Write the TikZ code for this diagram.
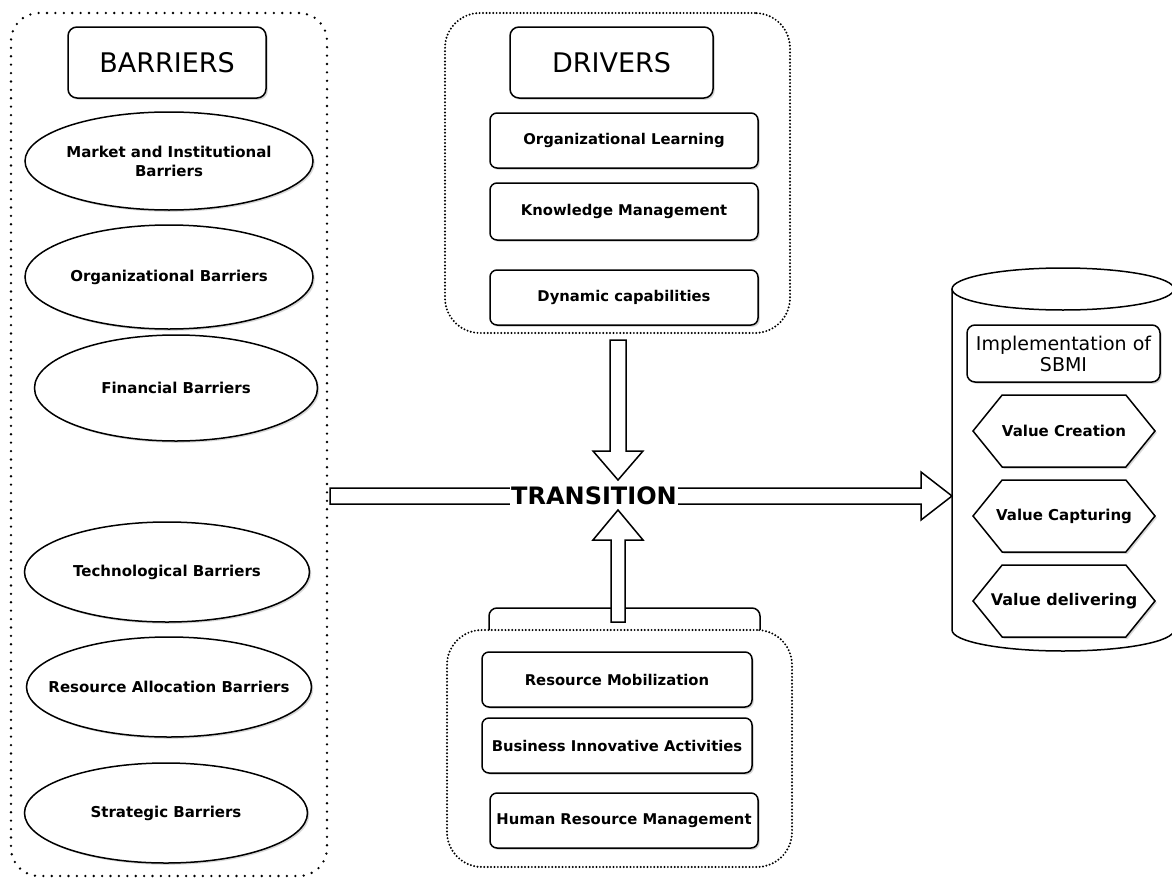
\documentclass[tikz,border=0pt]{standalone}
\usepackage{fontspec}
\setmainfont{DejaVu Sans}
\usetikzlibrary{shapes.geometric,shapes.symbols,shadows,calc}
\tikzset{
 lw/.style={line width=1.5pt},
 sh/.style={drop shadow={opacity=0.3,shadow xshift=1.8pt,shadow yshift=-1.8pt}},
 sparsedots/.style={draw, line width=2.6pt, line cap=round, dash pattern=on 0pt off 8.4pt, rounded corners=28pt, fill=white, inner sep=0pt},
 densedots/.style={draw, line width=2.2pt, line cap=round, dash pattern=on 0pt off 3.4pt, rounded corners=35pt, fill=white, inner sep=0pt},
 titlebox/.style={draw, lw, rounded corners=9pt, fill=white, sh, inner sep=0pt, font=\fontsize{27}{30}\selectfont},
 itembox/.style={draw, lw, rounded corners=7pt, fill=white, sh, inner sep=0pt, minimum width=268pt, minimum height=55pt, font=\bfseries\fontsize{14.8}{17}\selectfont},
 barell/.style={draw, ellipse, lw, fill=white, sh, inner xsep=-60pt, inner ysep=0pt, align=center, font=\bfseries\fontsize{15}{19}\selectfont},
 valhex/.style={draw, signal, signal to=west and east, signal pointer angle=102, lw, fill=white, sh, inner xsep=-25pt, inner ysep=0pt, minimum width=182pt, minimum height=72pt, font=\bfseries\fontsize{15}{17}\selectfont},
 fatarrow/.style={draw, lw, fill=white, line join=miter},
}
\newcommand\fatarr[5]{%
 \coordinate (fa-h) at ($(#2)!#5!(#1)$);
 \draw[fatarrow] ($(#1)!#3!90:(#2)$) -- ($(fa-h)!#3!90:(#2)$) -- ($(fa-h)!#4!90:(#2)$) -- (#2)
   -- ($(fa-h)!#4!-90:(#2)$) -- ($(fa-h)!#3!-90:(#2)$) -- ($(#1)!#3!-90:(#2)$) -- cycle;}
\begin{document}
\begin{tikzpicture}[x=1pt,y=-1pt]
\useasboundingbox (0,0) rectangle (1172,878);
% ---------- BARRIERS ----------
\node[sparsedots, minimum width=316pt, minimum height=863pt] (barbox) at (169,444.5) {};
\node[titlebox, minimum width=198pt, minimum height=71pt] (bartitle) at (167,62.5) {BARRIERS};
\node[barell, minimum width=288pt, minimum height=98pt] (e1) at (169,161) {Market and Institutional\\Barriers};
\node[barell, minimum width=288pt, minimum height=104pt] (e2) at (169,277) {Organizational Barriers};
\node[barell, minimum width=283pt, minimum height=106pt] (e3) at (176,388) {Financial Barriers};
\node[barell, minimum width=285pt, minimum height=100pt] (e4) at (167,572) {Technological Barriers};
\node[barell, minimum width=285pt, minimum height=100pt] (e5) at (169,687) {Resource Allocation Barriers};
\node[barell, minimum width=283pt, minimum height=100pt] (e6) at (166,813) {Strategic Barriers};
% ---------- DRIVERS ----------
\node[densedots, minimum width=345pt, minimum height=320pt] (drbox) at (617.5,173) {};
\node[titlebox, minimum width=203pt, minimum height=71pt] (drtitle) at (611.5,62.5) {DRIVERS};
\node[itembox] (d1) at (624,140.5) {Organizational Learning};
\node[itembox, minimum height=57pt] (d2) at (624,211.5) {Knowledge Management};
\node[itembox] (d3) at (624,297.5) {Dynamic capabilities};
% ---------- bottom group ----------
\node[draw, lw, rounded corners=8pt, fill=white, minimum width=271pt, minimum height=60pt, inner sep=0pt] (entitle) at (624.5,638) {};
\coordinate (ustart) at (618,622);
\coordinate (tup) at (618,510);
\fatarr{ustart}{tup}{7pt}{25pt}{30pt}
\node[densedots, minimum width=345pt, minimum height=237pt] (enbox) at (619.5,748.5) {};
\node[itembox, minimum width=270pt] (b1) at (617,679.5) {Resource Mobilization};
\node[itembox, minimum width=270pt] (b2) at (617,745.5) {Business Innovative Activities};
\node[itembox] (b3) at (624,820.5) {Human Resource Management};
% ---------- cylinder ----------
\draw[lw, fill=white] (952,289) -- (952,630) arc[start angle=180, end angle=360, x radius=111pt, y radius=21pt] -- (1174,289);
\draw[lw, fill=white] (1063,289) ellipse [x radius=111pt, y radius=21pt];
\coordinate (cylW) at (952,496);
\node[draw, lw, rounded corners=8pt, fill=white, sh, inner sep=0pt, minimum width=193pt, minimum height=57pt, align=center, font=\fontsize{19}{21}\selectfont] (impl) at (1063.5,353.5) {Implementation of\\SBMI};
\node[valhex] (v1) at (1064,431) {Value Creation};
\node[valhex] (v2) at (1064,516) {Value Capturing};
\node[valhex, font=\bfseries\fontsize{16}{18}\selectfont] (v3) at (1064,601) {Value delivering};
% ---------- arrows ----------
\coordinate (dstartx) at (618,340);
\coordinate (tdown) at (618,480);
\fatarr{dstartx}{tdown}{8pt}{25pt}{29pt}
\coordinate (hstart) at (330,496);
\fatarr{hstart}{cylW}{8pt}{24pt}{31pt}
\node[fill=white, inner sep=1pt, font=\bfseries\fontsize{24}{26}\selectfont] (trans) at (594,496) {TRANSITION};
\end{tikzpicture}
\end{document}
